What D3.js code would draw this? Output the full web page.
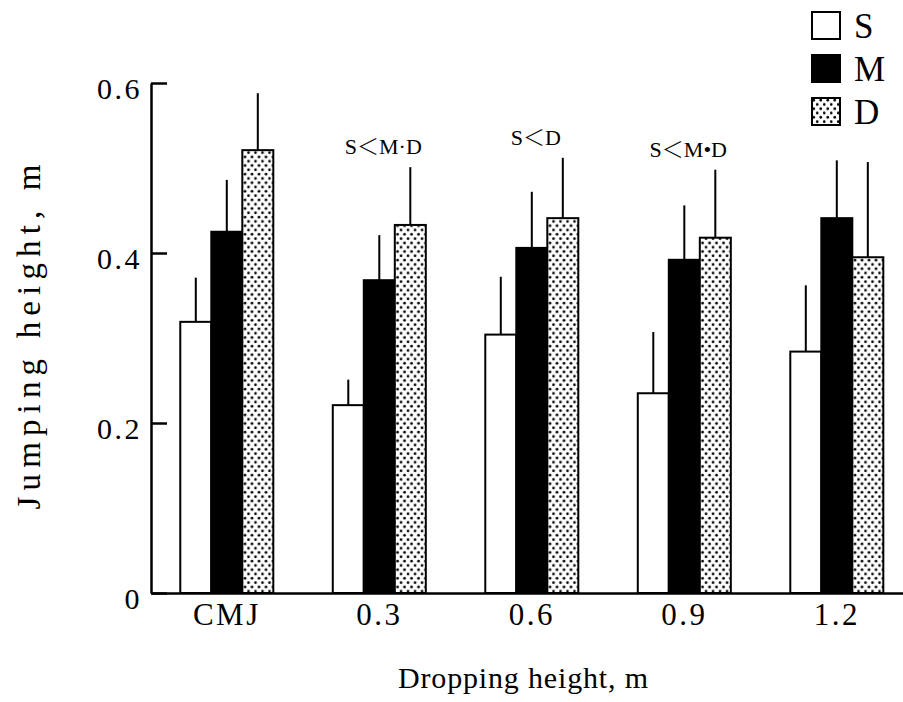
<!DOCTYPE html>
<html><head><meta charset="utf-8">
<script src="https://cdn.jsdelivr.net/npm/d3@7"></script>
<style>body{margin:0;background:#fff}svg{display:block}</style>
</head><body><svg id="c" width="903" height="702"></svg>
<script>
const categories = ["CMJ", "0.3", "0.6", "0.9", "1.2"];
const seriesNames = ["S", "M", "D"];
const meanS = [0.319, 0.221, 0.304, 0.235, 0.284];
const meanM = [0.425, 0.368, 0.406, 0.392, 0.441];
const meanD = [0.521, 0.433, 0.441, 0.418, 0.395];
const sdS = [0.052, 0.030, 0.068, 0.072, 0.078];
const sdM = [0.061, 0.053, 0.066, 0.064, 0.068];
const sdD = [0.067, 0.068, 0.071, 0.080, 0.112];
const yTicks = [0, 0.2, 0.4, 0.6];
const annotationCats = ["0.3", "0.6", "0.9"];
const annotationTexts = [["S", "M·D"], ["S", "D"], ["S", "M•D"]];
const xTitle = "Dropping height, m";
const yTitle = "Jumping height, m";

const means = {S: meanS, M: meanM, D: meanD};
const sds = {S: sdS, M: sdM, D: sdD};
const FONT = "'Liberation Serif','Times New Roman',serif";

const svg = d3.select("#c");
const defs = svg.append("defs");
const pat = defs.append("pattern").attr("id", "dots").attr("patternUnits", "userSpaceOnUse")
  .attr("width", 7).attr("height", 8.6);
pat.append("rect").attr("width", 7).attr("height", 8.6).attr("fill", "#fff");
pat.append("circle").attr("cx", 1.75).attr("cy", 2.15).attr("r", 1.35).attr("fill", "#000");
pat.append("circle").attr("cx", 5.25).attr("cy", 6.45).attr("r", 1.35).attr("fill", "#000");

const fills = {S: "#fff", M: "#000", D: "url(#dots)"};

const y = d3.scaleLinear().domain([0, 0.6]).range([593, 83]);
const x0 = d3.scaleBand().domain(categories).range([151, 912.6]).paddingInner(0.39).paddingOuter(0.192);
const x1 = d3.scaleBand().domain(seriesNames).range([0, x0.bandwidth()]);

// bars
const rows = categories.map((c, i) => ({c, i}));
const g = svg.append("g").selectAll("g").data(rows).join("g")
  .attr("transform", d => `translate(${x0(d.c)},0)`);

seriesNames.forEach(s => {
  g.append("line")
    .attr("x1", x1(s) + x1.bandwidth() / 2).attr("x2", x1(s) + x1.bandwidth() / 2)
    .attr("y1", d => y(means[s][d.i])).attr("y2", d => y(means[s][d.i] + sds[s][d.i]))
    .attr("stroke", "#000").attr("stroke-width", 2);
  g.append("rect")
    .attr("x", x1(s)).attr("width", x1.bandwidth())
    .attr("y", d => y(means[s][d.i])).attr("height", d => y(0) - y(means[s][d.i]))
    .attr("fill", fills[s]).attr("stroke", "#000").attr("stroke-width", 2);
});

// y axis
const yAxis = d3.axisLeft(y).tickValues(yTicks).tickSize(-16).tickSizeOuter(0).tickPadding(9)
  .tickFormat(d => d === 0 ? "0" : d.toFixed(1));
const ya = svg.append("g").attr("transform", "translate(151,0)").call(yAxis);
ya.select(".domain").attr("stroke-width", 2.5);
ya.selectAll(".tick line").attr("stroke-width", 2.5);
ya.selectAll("text").attr("font-family", FONT).attr("font-size", 30).attr("letter-spacing", 2.5)
  .attr("font-weight", 300).attr("dy", "0.5em");

// x axis
const xAxis = d3.axisBottom(x0).tickSize(0).tickSizeOuter(0).tickPadding(10);
const xa = svg.append("g").attr("transform", "translate(0,593)").call(xAxis);
xa.select(".domain").attr("stroke-width", 2.5);
xa.selectAll("text").attr("font-family", FONT).attr("font-size", 31).attr("letter-spacing", 2.5);

// annotations
annotationCats.forEach((c, k) => {
  const i = categories.indexOf(c);
  const top = d3.min(seriesNames, s => y(means[s][i] + sds[s][i]));
  const t = svg.append("text").attr("x", x0(c) + x0.bandwidth() / 2 + 4).attr("y", top - 13)
    .attr("text-anchor", "middle").attr("font-family", FONT).attr("font-size", 22);
  t.append("tspan").text(annotationTexts[k][0]);
  t.append("tspan").attr("font-family", "'Noto Sans CJK JP'").attr("font-weight", 300).text("＜");
  t.append("tspan").text(annotationTexts[k][1]);
});

// legend
const lg = svg.append("g").attr("transform", "translate(812,12)");
seriesNames.forEach((s, k) => {
  lg.append("rect").attr("x", 0).attr("y", k * 43).attr("width", 28).attr("height", 27)
    .attr("fill", fills[s]).attr("stroke", "#000").attr("stroke-width", 2);
  lg.append("text").attr("x", 42).attr("y", k * 43 + 26).attr("font-family", FONT)
    .attr("font-size", 35).text(s);
});

// titles
svg.append("text").attr("x", 523).attr("y", 688).attr("text-anchor", "middle")
  .attr("font-family", FONT).attr("font-size", 30).attr("textLength", 250).attr("lengthAdjust", "spacing")
  .text(xTitle);
svg.append("text").attr("transform", "translate(40,337) rotate(-90)").attr("text-anchor", "middle")
  .attr("font-family", FONT).attr("font-size", 33).attr("textLength", 345).attr("lengthAdjust", "spacing")
  .text(yTitle);
</script></body></html>
